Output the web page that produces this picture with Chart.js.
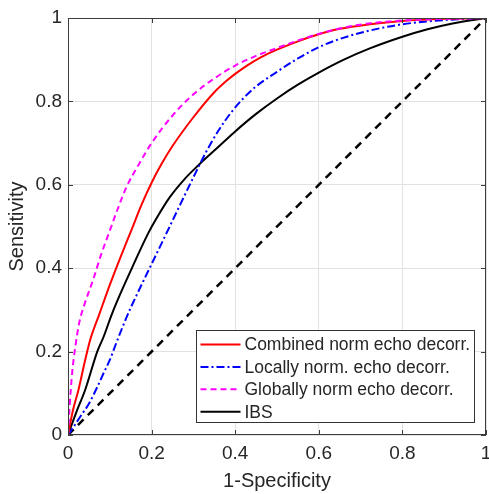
<!DOCTYPE html>
<html>
<head>
<meta charset="utf-8">
<script src="https://cdn.jsdelivr.net/npm/chart.js@4"></script>
<style>
html, body { margin: 0; padding: 0; background: #fff; }
</style>
</head>
<body>
<canvas id="roc-canvas" width="489" height="494"></canvas>
<script>
// ROC curves, values (x = 1-specificity, y = sensitivity)
const combinedFpr = [0, 0.012, 0.025, 0.04, 0.053, 0.075, 0.1, 0.125, 0.152, 0.175, 0.2, 0.225, 0.25, 0.3, 0.35, 0.38, 0.4, 0.43, 0.46, 0.5, 0.55, 0.6, 0.65, 0.722, 0.8, 0.9, 1]
const combinedTpr = [0, 0.06, 0.108, 0.175, 0.228, 0.29, 0.36, 0.425, 0.492, 0.55, 0.605, 0.652, 0.693, 0.762, 0.822, 0.85, 0.866, 0.887, 0.905, 0.924, 0.944, 0.961, 0.974, 0.985, 0.993, 0.998, 1]

const localFpr = [0, 0.015, 0.03, 0.05, 0.07, 0.085, 0.1, 0.116, 0.135, 0.15, 0.172, 0.2, 0.228, 0.26, 0.3, 0.33, 0.36, 0.39, 0.42, 0.45, 0.5, 0.55, 0.6, 0.66, 0.722, 0.8, 0.9, 1]
const localTpr = [0, 0.022, 0.045, 0.075, 0.115, 0.148, 0.18, 0.222, 0.27, 0.305, 0.352, 0.41, 0.468, 0.535, 0.618, 0.678, 0.73, 0.773, 0.808, 0.836, 0.871, 0.903, 0.93, 0.953, 0.97, 0.985, 0.995, 1]

const globalFpr = [0, 0.004, 0.01, 0.018, 0.027, 0.04, 0.06, 0.08, 0.1, 0.12, 0.14, 0.17, 0.2, 0.25, 0.3, 0.35, 0.4, 0.45, 0.5, 0.55, 0.6, 0.65, 0.72, 0.8, 0.9, 1]
const globalTpr = [0, 0.07, 0.15, 0.215, 0.27, 0.315, 0.372, 0.435, 0.49, 0.545, 0.595, 0.65, 0.7, 0.766, 0.817, 0.855, 0.886, 0.909, 0.928, 0.946, 0.962, 0.975, 0.987, 0.994, 0.998, 1]

const ibsFpr = [0, 0.02, 0.041, 0.07, 0.085, 0.105, 0.128, 0.155, 0.19, 0.215, 0.244, 0.28, 0.312, 0.35, 0.4, 0.45, 0.5, 0.55, 0.6, 0.66, 0.722, 0.8, 0.86, 0.92, 1]
const ibsTpr = [0, 0.055, 0.108, 0.2, 0.235, 0.29, 0.345, 0.405, 0.48, 0.525, 0.571, 0.615, 0.647, 0.682, 0.728, 0.77, 0.807, 0.84, 0.869, 0.9, 0.927, 0.955, 0.973, 0.987, 1]

const chanceFpr = [0, 1]
const chanceTpr = [0, 1]

const axisTicks = [0, 0.2, 0.4, 0.6, 0.8, 1]

const toPoints = (xs, ys) => xs.map((x, i) => ({ x: x, y: ys[i] }))
const tickText = v => String(Number(v.toFixed(1)))

const textColor = '#262626'
const fontFamily = "'Liberation Sans', Arial, sans-serif"

// box round the axes, inward tick marks and the legend inside the plot
const framePlugin = {
    id: 'frame',
    afterDatasetsDraw(chart) {
        const ctx = chart.ctx
        const area = chart.chartArea
        const xs = chart.scales.x
        const ys = chart.scales.y
        ctx.save()
        ctx.strokeStyle = '#3c3c3c'
        ctx.lineWidth = 1
        ctx.strokeRect(area.left + 0.5, area.top + 0.5, area.right - area.left - 1, area.bottom - area.top - 1)
        ctx.beginPath()
        axisTicks.forEach(v => {
            const px = Math.round(xs.getPixelForValue(v)) + 0.5
            ctx.moveTo(px, area.bottom); ctx.lineTo(px, area.bottom - 5)
            ctx.moveTo(px, area.top); ctx.lineTo(px, area.top + 5)
            const py = Math.round(ys.getPixelForValue(v)) + 0.5
            ctx.moveTo(area.left, py); ctx.lineTo(area.left + 5, py)
            ctx.moveTo(area.right, py); ctx.lineTo(area.right - 5, py)
        })
        ctx.stroke()
        ctx.restore()
    },
    afterDraw(chart) {
        const ctx = chart.ctx
        const area = chart.chartArea
        const items = chart.data.datasets.filter(d => d.inLegend)
        ctx.save()
        ctx.font = '17.5px ' + fontFamily
        const textW = Math.max(...items.map(d => ctx.measureText(d.label).width))
        const sampleW = 40
        const rowH = 22.4
        const boxW = 4 + sampleW + 4 + textW + 4
        const boxH = 14 + (items.length - 1) * rowH + 11
        const right = area.right - 12
        const bottom = area.bottom - 13
        const left = Math.round(right - boxW) + 0.5
        const top = Math.round(bottom - boxH) + 0.5
        ctx.fillStyle = '#fff'
        ctx.fillRect(left, top, boxW, boxH)
        ctx.strokeStyle = '#333'
        ctx.lineWidth = 1
        ctx.strokeRect(left, top, Math.round(boxW), Math.round(boxH))
        items.forEach((d, i) => {
            const cy = top + 14 + rowH * i
            ctx.strokeStyle = d.borderColor
            ctx.lineWidth = d.borderWidth
            ctx.setLineDash(d.borderDash || [])
            ctx.beginPath()
            ctx.moveTo(left + 4, cy)
            ctx.lineTo(left + 4 + sampleW, cy)
            ctx.stroke()
            ctx.setLineDash([])
            ctx.fillStyle = textColor
            ctx.textBaseline = 'middle'
            ctx.textAlign = 'left'
            ctx.fillText(d.label, left + 4 + sampleW + 4, cy + 1)
        })
        ctx.restore()
    }
}

const rocChart = new Chart(document.getElementById('roc-canvas'), {
    type: 'scatter',
    data: {
        datasets: [
            {
                label: 'Combined norm echo decorr.',
                data: toPoints(combinedFpr, combinedTpr),
                borderColor: '#ff0000',
                borderWidth: 2,
                inLegend: true,
                order: 2
            },
            {
                label: 'Locally norm. echo decorr.',
                data: toPoints(localFpr, localTpr),
                borderColor: '#0000ff',
                borderWidth: 2,
                borderDash: [8, 3, 2, 3],
                inLegend: true,
                order: 3
            },
            {
                label: 'Globally norm echo decorr.',
                data: toPoints(globalFpr, globalTpr),
                borderColor: '#ff00ff',
                borderWidth: 2,
                borderDash: [6, 4],
                inLegend: true,
                order: 1
            },
            {
                label: 'IBS',
                data: toPoints(ibsFpr, ibsTpr),
                borderColor: '#000000',
                borderWidth: 2,
                inLegend: true,
                order: 4
            },
            {
                label: 'chance',
                data: toPoints(chanceFpr, chanceTpr),
                borderColor: '#000000',
                borderWidth: 2.5,
                borderDash: [8, 6],
                inLegend: false,
                order: 5
            }
        ]
    },
    options: {
        responsive: false,
        animation: false,
        showLine: true,
        elements: {
            point: { radius: 0, hoverRadius: 0 },
            line: { tension: 0.3, cubicInterpolationMode: 'monotone' }
        },
        layout: { padding: { top: 18, right: 3, left: 0, bottom: 0 } },
        plugins: {
            legend: { display: false },
            tooltip: { enabled: false }
        },
        scales: {
            x: {
                type: 'linear',
                min: 0,
                max: 1,
                ticks: {
                    stepSize: 0.2,
                    color: textColor,
                    padding: 7,
                    maxRotation: 0,
                    font: { family: fontFamily, size: 19 },
                    callback: tickText
                },
                grid: { color: '#e2e2e2', drawTicks: false },
                border: { display: false },
                title: {
                    display: true,
                    text: '1-Specificity',
                    color: textColor,
                    font: { family: fontFamily, size: 20 },
                    padding: { top: 0, bottom: 1 }
                },
                afterFit(scale) {
                    scale.height = 59
                    scale.paddingLeft = 0
                    scale.paddingRight = 0
                }
            },
            y: {
                type: 'linear',
                min: 0,
                max: 1,
                ticks: {
                    stepSize: 0.2,
                    color: textColor,
                    padding: 6,
                    font: { family: fontFamily, size: 19 },
                    callback: tickText
                },
                grid: { color: '#e2e2e2', drawTicks: false },
                border: { display: false },
                title: {
                    display: true,
                    text: 'Sensitivity',
                    color: textColor,
                    font: { family: fontFamily, size: 20 },
                    padding: { top: 5, bottom: 0 }
                },
                afterFit(scale) {
                    scale.width = 68
                    scale.paddingTop = 0
                    scale.paddingBottom = 0
                }
            }
        }
    },
    plugins: [framePlugin]
})
</script>
</body>
</html>
